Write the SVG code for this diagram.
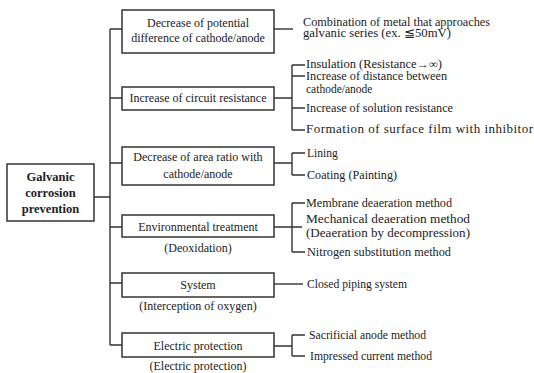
<svg xmlns="http://www.w3.org/2000/svg" width="534" height="373" viewBox="0 0 534 373">
<style>
.box{fill:#fff;stroke:#333;stroke-width:1.5}
.ln{fill:none;stroke:#333;stroke-width:1.4}
text{font-family:"Liberation Serif","Times New Roman",serif;font-size:12px;fill:#222}
.c{text-anchor:middle}
.b{font-weight:bold;font-size:12.5px}
.l{font-size:11.5px}
</style>
<rect width="534" height="373" fill="#fff"/>
<g id="connectors">
<path class="ln" d="M94 197H110M110 29V345M110 29H122M110 98H122M110 163H122M110 227H122M110 283H122M110 345H122"/>
<path class="ln" d="M274 29H293"/>
<path class="ln" d="M274 98H292M292 65V130M292 65H305M292 76H305M292 108H305M292 130H305"/>
<path class="ln" d="M274 163H292M292 153V175M292 153H305M292 175H305"/>
<path class="ln" d="M274 227H302M292 203V252M292 203H305M292 252H305"/>
<path class="ln" d="M274 284H303"/>
<path class="ln" d="M274 346H292M292 335V356M292 335H305M292 356H305"/>
</g>
<g id="root">
<rect class="box" x="7" y="164" width="87" height="57"/>
<text class="c b" x="50.5" y="181">Galvanic</text>
<text class="c b" x="50.5" y="197">corrosion</text>
<text class="c b" x="50.5" y="213">prevention</text>
</g>
<g id="n1">
<rect class="box" x="122" y="10" width="152" height="43"/>
<text class="c" x="198" y="27">Decrease of potential</text>
<text class="c" x="198" y="42">difference of cathode/anode</text>
</g>
<g id="n2">
<rect class="box" x="122" y="87" width="152" height="23"/>
<text class="c" x="198" y="102">Increase of circuit resistance</text>
</g>
<g id="n3">
<rect class="box" x="122" y="147" width="152" height="38"/>
<text class="c" x="198" y="161">Decrease of area ratio with</text>
<text class="c" x="198" y="178">cathode/anode</text>
</g>
<g id="n4">
<rect class="box" x="122" y="215" width="152" height="22"/>
<text class="c" x="198" y="231">Environmental treatment</text>
<text class="c" x="198" y="252">(Deoxidation)</text>
</g>
<g id="n5">
<rect class="box" x="122" y="273" width="152" height="24"/>
<text class="c" x="198" y="289">System</text>
<text class="c" x="198" y="310">(Interception of oxygen)</text>
</g>
<g id="n6">
<rect class="box" x="122" y="333" width="152" height="24"/>
<text class="c" x="198" y="350">Electric protection</text>
<text class="c" x="198" y="370">(Electric protection)</text>
</g>
<g id="leaves">
<text class="l" x="303" y="26" textLength="187" lengthAdjust="spacingAndGlyphs">Combination of metal that approaches</text>
<text class="l" x="303" y="37" textLength="148" lengthAdjust="spacingAndGlyphs">galvanic series (ex.  ≦50mV)</text>
<text class="l" x="306" y="68" textLength="136" lengthAdjust="spacingAndGlyphs">Insulation (Resistance→∞)</text>
<text class="l" x="306" y="80" textLength="141" lengthAdjust="spacingAndGlyphs">Increase of distance between</text>
<text class="l" x="306" y="93">cathode/anode</text>
<text class="l" x="306" y="112" textLength="147" lengthAdjust="spacingAndGlyphs">Increase of solution resistance</text>
<text x="306" y="133" style="font-size:13px" textLength="227">Formation of surface film with inhibitor</text>
<text class="l" x="307" y="157">Lining</text>
<text class="l" x="307" y="179" textLength="90" lengthAdjust="spacingAndGlyphs">Coating (Painting)</text>
<text class="l" x="306" y="207" textLength="146" lengthAdjust="spacingAndGlyphs">Membrane deaeration method</text>
<text class="l" x="306" y="223" textLength="164" lengthAdjust="spacingAndGlyphs">Mechanical deaeration method</text>
<text class="l" x="306" y="237" textLength="164" lengthAdjust="spacingAndGlyphs">(Deaeration by decompression)</text>
<text class="l" x="307" y="256" textLength="144" lengthAdjust="spacingAndGlyphs">Nitrogen substitution method</text>
<text class="l" x="307" y="288" textLength="100" lengthAdjust="spacingAndGlyphs">Closed piping system</text>
<text class="l" x="309" y="339" textLength="117" lengthAdjust="spacingAndGlyphs">Sacrificial anode method</text>
<text class="l" x="310" y="360" textLength="122" lengthAdjust="spacingAndGlyphs">Impressed current method</text>
</g>
</svg>
